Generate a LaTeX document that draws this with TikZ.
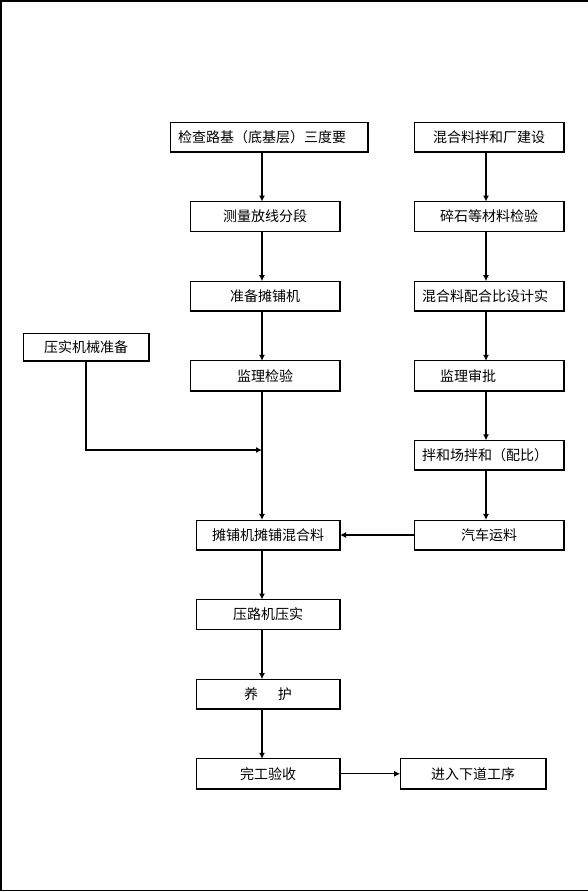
\documentclass[tikz,border=0pt]{standalone}
\usepackage{fontspec}
\newfontfamily\cjk{Noto Sans CJK SC}
\usetikzlibrary{positioning,arrows.meta}
\tikzset{
  flowarr/.style={-{Latex[length=6pt,width=6pt]},line width=1.6pt},
  thinarr/.style={-{Latex[length=6pt,width=6pt]},line width=0.8pt},
  box/.style={draw=black,line width=0.8pt,minimum width=150pt,minimum height=30pt,
              inner sep=2pt,outer sep=0pt,align=center,font=\cjk\fontsize{14}{16}\selectfont},
  lbox/.style={box,align=left,text width=#1},
  boxshade/.style={line width=1.8pt,line join=miter}
}

\begin{document}
\begin{tikzpicture}[x=1pt,y=1pt,node distance=49.6pt and 60pt]
\useasboundingbox (0,0) rectangle (588,892);
% page frame
\draw[line width=1.5pt] (588,891) -- (1,891) -- (1,1.5) -- (588,1.5);

\coordinate (colL) at (262,0);
\coordinate (colR) at (486,0);

% left column
\node[lbox=182pt, minimum width=198pt] (check) at (269,755) {检查路基（底基层）三度要};
\node[box, below=of check, xshift=-4pt] (survey) {测量放线分段};
\node[box, below=of survey] (prep)   {准备摊铺机};
\node[box, below=of prep]   (insp)   {监理检验};
\node[box, minimum width=144pt, below=129.2pt of insp, xshift=3pt] (pave) {摊铺机摊铺混合料};
\node[box, minimum width=144pt, below=of pave] (roll) {压路机压实};
\node[box, minimum width=144pt, below=of roll] (cure) {养\hspace{20pt}护};
\node[box, minimum width=144pt, below=of cure] (done) {完工验收};
\node[box, minimum width=146pt, right=of done] (next) {进入下道工序};
\node[box, minimum width=126pt, minimum height=28pt] (press) at (86,545) {压实机械准备};

% right column
\node[box] (plant) at (489,755) {混合料拌和厂建设};
\node[box, below=of plant]   (stone)   {碎石等材料检验};
\node[lbox=134pt, below=of stone] (ratio) {混合料配合比设计实};
\node[lbox=98pt, below=of ratio]  (approve) {监理审批};
\node[lbox=134pt, below=of approve] (mixing) {拌和场拌和（配比）};
\node[box, below=of mixing]  (truck)   {汽车运料};

% heavier right and bottom edges
\foreach \n in {check,survey,prep,insp,pave,roll,cure,done,next,press,plant,stone,ratio,approve,mixing,truck}
  \draw[boxshade] (\n.north east) -- (\n.south east) -- (\n.south west);

\coordinate (merge) at (262,442);

\draw[flowarr] (check.south -| colL) -- (survey.north -| colL);
\draw[flowarr] (survey.south -| colL) -- (prep.north -| colL);
\draw[flowarr] (prep.south -| colL) -- (insp.north -| colL);
\draw[flowarr] (insp.south -| colL) -- (pave.north -| colL);
\draw[flowarr] (press.south) |- (merge);
\draw[flowarr] (pave.south -| colL) -- (roll.north -| colL);
\draw[flowarr] (roll.south -| colL) -- (cure.north -| colL);
\draw[flowarr] (cure.south -| colL) -- (done.north -| colL);
\draw[thinarr] (done.east) -- (next.west);

\draw[flowarr] (plant.south -| colR) -- (stone.north -| colR);
\draw[flowarr] (stone.south -| colR) -- (ratio.north -| colR);
\draw[flowarr] (ratio.south -| colR) -- (approve.north -| colR);
\draw[flowarr] (approve.south -| colR) -- (mixing.north -| colR);
\draw[flowarr] (mixing.south -| colR) -- (truck.north -| colR);
\draw[flowarr] (truck.west) -- (pave.east);
\end{tikzpicture}
\end{document}
